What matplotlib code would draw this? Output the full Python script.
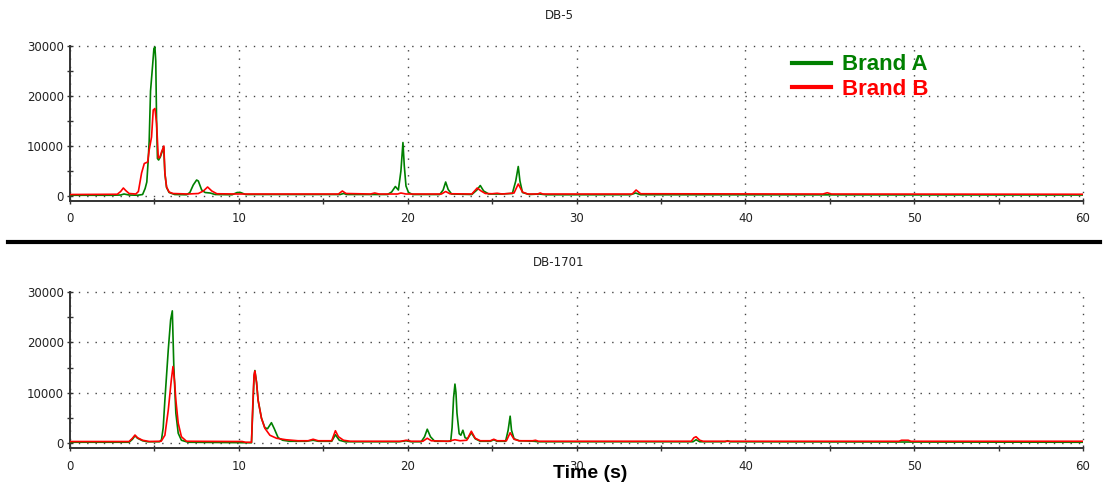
import matplotlib
matplotlib.use("Agg")
import matplotlib.pyplot as plt
from matplotlib.lines import Line2D
from matplotlib.ticker import MultipleLocator

# DB-5 column, values
db5_a_time = [0, 2.5, 3.0, 3.2, 3.5, 4.0, 4.3, 4.45, 4.55, 4.62, 4.69, 4.77, 4.89, 4.97,
              5.03, 5.08, 5.13, 5.18, 5.25, 5.35, 5.45, 5.55, 5.62, 5.72, 5.87, 6.2, 6.9,
              7.1, 7.3, 7.5, 7.6, 7.8, 8.0, 8.3, 8.6, 9.6, 9.9, 10.1, 10.4, 16.0, 16.2,
              16.4, 18.8, 19.05, 19.27, 19.45, 19.6, 19.72, 19.8, 19.9, 20.05, 20.3, 21.9,
              22.1, 22.25, 22.4, 22.6, 23.8, 24.1, 24.3, 24.5, 24.8, 25.5, 26.2, 26.4,
              26.55, 26.65, 26.8, 27.2, 27.8, 28.2, 33.2, 33.5, 33.8, 60]
db5_a_signal = [150, 150, 200, 400, 200, 150, 300, 1500, 2800, 6500, 11000, 21000, 26000, 29500,
                29800, 27000, 14500, 7500, 7200, 7800, 8800, 9800, 4500, 1700, 700, 300, 250,
                700, 2200, 3200, 3000, 1200, 700, 600, 300, 250, 700, 700, 300, 300, 500,
                300, 300, 800, 1900, 1200, 5000, 10700, 6000, 2000, 700, 300, 300,
                1200, 2800, 1300, 400, 300, 1200, 2100, 1000, 400, 400, 500, 3000,
                5900, 3000, 700, 300, 400, 250, 250, 600, 250, 200]

db5_b_time = [0, 2.8, 3.0, 3.16, 3.3, 3.5, 3.9, 4.05, 4.24, 4.4, 4.6, 4.69, 4.83, 4.93,
              5.03, 5.13, 5.23, 5.33, 5.42, 5.56, 5.62, 5.72, 5.87, 6.1, 7.0, 7.6, 7.9,
              8.15, 8.4, 8.7, 10, 15.9, 16.13, 16.35, 17.8, 18.05, 18.3, 19.4, 19.6, 19.9,
              22.0, 22.25, 22.5, 23.8, 24.12, 24.35, 24.6, 25.0, 25.3, 25.6, 26.3, 26.55,
              26.8, 27.1, 27.7, 27.85, 28.0, 33.3, 33.53, 33.8, 44.6, 44.85, 45.1, 60]
db5_b_signal = [300, 350, 900, 1600, 1100, 500, 400, 900, 4600, 6500, 6800, 9200, 11800, 17200,
                17500, 14500, 7600, 7800, 8800, 10000, 4600, 1800, 800, 500, 400, 500, 1000,
                1800, 1000, 450, 400, 400, 1000, 500, 400, 600, 400, 400, 600, 400,
                400, 900, 450, 400, 1600, 1000, 500, 450, 550, 400, 600, 2400,
                800, 400, 400, 600, 400, 400, 1200, 450, 400, 650, 400, 350]

# DB-1701 column
db1701_a_time = [0, 3.5, 3.7, 3.85, 4.0, 4.3, 4.6, 5.3, 5.42, 5.52, 5.62, 5.82, 5.96, 6.06,
                 6.15, 6.27, 6.41, 6.6, 7.0, 10.75, 10.82, 10.9, 10.95, 11.05, 11.14, 11.34,
                 11.54, 11.7, 11.93, 12.1, 12.33, 12.6, 13.0, 14.0, 14.4, 14.7, 15.5, 15.72,
                 15.95, 16.3, 19.5, 19.9, 20.2, 20.8, 21.0, 21.16, 21.35, 21.6, 22.55, 22.63,
                 22.72, 22.8, 22.86, 22.92, 23.05, 23.15, 23.27, 23.4, 23.55, 23.77, 24.0,
                 24.3, 24.9, 25.1, 25.3, 25.8, 25.95, 26.07, 26.15, 26.3, 26.6, 27.5, 27.7,
                 36.9, 37.08, 37.3, 38.8, 38.95, 39.1, 60]
db1701_a_signal = [100, 100, 700, 1400, 900, 400, 200, 200, 600, 3000, 8500, 18500, 24500, 26300,
                   15200, 5900, 1900, 500, 100, 0, 6000, 13000, 14400, 12000, 8500, 4900,
                   3000, 2800, 4000, 2800, 1000, 500, 300, 300, 500, 300, 300, 1600,
                   500, 200, 200, 400, 200, 200, 1200, 2700, 1200, 300, 300, 3000,
                   9000, 11700, 10000, 5900, 1800, 1500, 2500, 1000, 800, 2000, 800,
                   300, 300, 600, 300, 300, 2500, 5300, 2500, 800, 400, 300, 200,
                   200, 600, 200, 200, 400, 200, 100]

db1701_b_time = [0, 3.5, 3.7, 3.85, 4.0, 4.3, 4.7, 5.4, 5.62, 5.82, 6.0, 6.1, 6.2, 6.27,
                 6.41, 6.6, 6.9, 10.2, 10.4, 10.75, 10.82, 10.9, 10.95, 11.05, 11.14, 11.34,
                 11.54, 11.84, 12.23, 12.8, 13.5, 14.1, 14.4, 14.7, 15.5, 15.72, 15.9, 16.2,
                 16.6, 19.6, 19.92, 20.2, 20.9, 21.16, 21.4, 22.4, 22.8, 23.1, 23.5, 23.77,
                 24.0, 24.3, 24.9, 25.1, 25.3, 25.85, 26.07, 26.3, 26.6, 27.4, 27.57, 27.75,
                 36.8, 36.95, 37.08, 37.3, 37.5, 49.1, 49.25, 49.65, 49.8, 60]
db1701_b_signal = [250, 250, 900, 1540, 1000, 500, 250, 300, 1500, 6500, 12500, 15200, 12000, 8500,
                   3900, 1200, 300, 250, 100, 100, 7000, 13500, 14300, 12000, 8500, 4900,
                   2900, 1500, 900, 600, 400, 400, 700, 400, 400, 2400, 1200, 500,
                   300, 300, 500, 300, 300, 900, 400, 300, 600, 400, 500, 2300,
                   900, 400, 400, 700, 400, 400, 2000, 700, 400, 400, 500, 300,
                   300, 1000, 1200, 500, 300, 300, 500, 500, 300, 300]

GREEN = "#008000"
RED = "#ff0000"
AXIS_GRAY = "#333333"


def style_axes(ax, ymin):
    ax.set_xlim(0, 60)
    ax.set_ylim(ymin, 30000)
    for side in ["top", "right"]:
        ax.spines[side].set_visible(False)
    for side in ["left", "bottom"]:
        ax.spines[side].set_color(AXIS_GRAY)
        ax.spines[side].set_linewidth(1.4)
    ax.spines["left"].set_bounds(ymin, 30000)

    ax.xaxis.set_major_locator(MultipleLocator(10))
    ax.xaxis.set_minor_locator(MultipleLocator(5))
    ax.yaxis.set_major_locator(MultipleLocator(10000))
    ax.yaxis.set_minor_locator(MultipleLocator(5000))
    ax.tick_params(which="both", direction="inout", length=4.5, width=1,
                   color=AXIS_GRAY, labelsize=8.5, labelcolor="#222222")
    ax.tick_params(axis="x", pad=6)
    ax.tick_params(axis="y", pad=2)

    ax.grid(True, which="major", color="#444444", linestyle=(0, (1, 5)), linewidth=1)
    ax.set_axisbelow(True)
    for gl in ax.get_xgridlines() + ax.get_ygridlines():
        gl.set_clip_on(False)


def draw_panel(ax, title, a_time, a_signal, b_time, b_signal, ymin, title_y):
    ax.plot(a_time, a_signal, color=GREEN, linewidth=1.2, zorder=3)
    ax.plot(b_time, b_signal, color=RED, linewidth=1.2, zorder=4)
    style_axes(ax, ymin)
    ax.text(0.4827, title_y, title, transform=ax.transAxes, ha="center", va="center",
            fontsize=8.5, color="#222222")


def main():
    fig = plt.figure(figsize=(11.04, 4.84), dpi=100)

    ax_top = fig.add_axes([0.0634, 0.5847, 0.9176, 0.3202])
    ax_bottom = fig.add_axes([0.0634, 0.0738, 0.9176, 0.3223])

    draw_panel(ax_top, "DB-5", db5_a_time, db5_a_signal, db5_b_time, db5_b_signal,
               -1000, 1.2)
    draw_panel(ax_bottom, "DB-1701", db1701_a_time, db1701_a_signal, db1701_b_time,
               db1701_b_signal, -1100, 1.19)

    handles = [Line2D([], [], color=GREEN, linewidth=3),
               Line2D([], [], color=RED, linewidth=3)]
    leg = ax_top.legend(handles, ["Brand A", "Brand B"], loc="upper left",
                        bbox_to_anchor=(0.7127, 0.946), frameon=False, borderpad=0,
                        borderaxespad=0, handlelength=1.75, handletextpad=0.5,
                        labelspacing=0.14, prop={"family": "Liberation Sans",
                                                 "weight": "bold", "size": 16})
    for text, color in zip(leg.get_texts(), [GREEN, RED]):
        text.set_color(color)

    fig.add_artist(Line2D([8 / 1104, 1100 / 1104], [0.499, 0.499],
                          transform=fig.transFigure, color="black", linewidth=3))

    fig.text(590 / 1104, 1 - 473 / 484, "Time (s)", ha="center", va="center",
             fontsize=14, fontweight="bold", family="Liberation Sans")

    fig.savefig("out.png", dpi=100)


if __name__ == "__main__":
    main()
